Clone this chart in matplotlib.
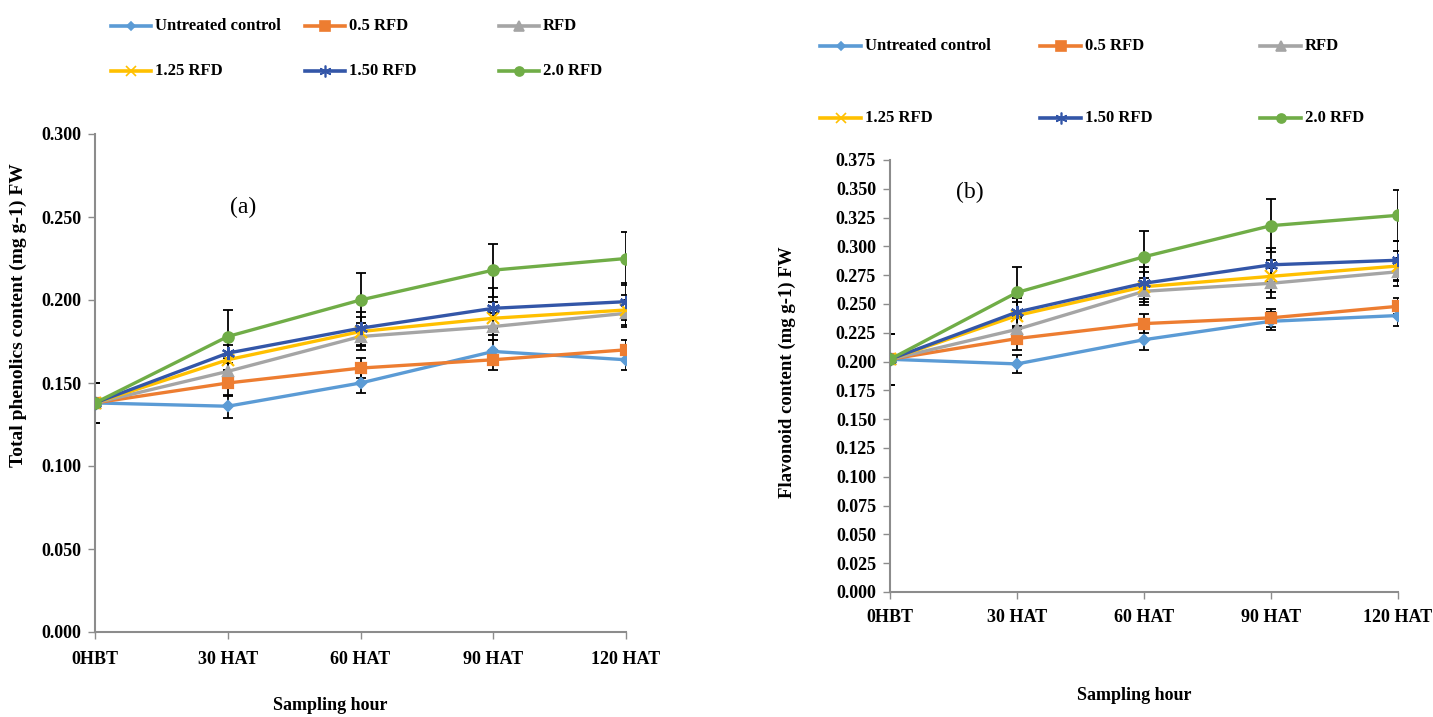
import matplotlib
matplotlib.use('Agg')
import matplotlib.pyplot as plt
from matplotlib.lines import Line2D

plt.rcParams['font.family'] = ['Liberation Serif', 'DejaVu Serif']
plt.rcParams['font.weight'] = 'bold'

hours = ['0HBT', '30 HAT', '60 HAT', '90 HAT', '120 HAT']
treatments = ['Untreated control', '0.5 RFD', 'RFD', '1.25 RFD', '1.50 RFD', '2.0 RFD']

# (a) total phenolics, mg g-1 FW
phen_ctrl = [0.138, 0.136, 0.150, 0.169, 0.164]
phen_05 = [0.138, 0.150, 0.159, 0.164, 0.170]
phen_rfd = [0.138, 0.157, 0.178, 0.184, 0.192]
phen_125 = [0.138, 0.164, 0.181, 0.189, 0.194]
phen_150 = [0.138, 0.168, 0.183, 0.195, 0.199]
phen_20 = [0.138, 0.178, 0.200, 0.218, 0.225]

phen_ctrl_err = [0.012, 0.007, 0.006, 0.007, 0.006]
phen_05_err = [0.012, 0.008, 0.006, 0.006, 0.006]
phen_rfd_err = [0.012, 0.008, 0.008, 0.008, 0.008]
phen_125_err = [0.012, 0.009, 0.009, 0.010, 0.009]
phen_150_err = [0.012, 0.010, 0.010, 0.012, 0.011]
phen_20_err = [0.012, 0.016, 0.016, 0.016, 0.016]

# (b) flavonoid, mg g-1 FW
flav_ctrl = [0.202, 0.198, 0.219, 0.235, 0.240]
flav_05 = [0.202, 0.220, 0.233, 0.238, 0.248]
flav_rfd = [0.202, 0.228, 0.261, 0.268, 0.278]
flav_125 = [0.202, 0.240, 0.265, 0.274, 0.283]
flav_150 = [0.202, 0.243, 0.268, 0.284, 0.288]
flav_20 = [0.202, 0.260, 0.291, 0.318, 0.327]

flav_ctrl_err = [0.022, 0.008, 0.009, 0.008, 0.009]
flav_05_err = [0.022, 0.010, 0.008, 0.008, 0.007]
flav_rfd_err = [0.022, 0.012, 0.012, 0.013, 0.012]
flav_125_err = [0.022, 0.012, 0.013, 0.014, 0.013]
flav_150_err = [0.022, 0.012, 0.014, 0.015, 0.017]
flav_20_err = [0.022, 0.022, 0.022, 0.023, 0.022]

colors = ['#5B9BD5', '#ED7D31', '#A5A5A5', '#FFC000', '#3356A8', '#70AD47']
markers = ['D', 's', '^', 'x', (6, 2, 0), 'o']
msizes = [5.5, 7.5, 7.5, 8.5, 9.5, 7.5]

W, H = 1433, 717
fig = plt.figure(figsize=(W / 100, H / 100), dpi=100)
fig.patch.set_facecolor('white')


def px(x0, y0, x1, y1):
    return [x0 / W, 1 - y1 / H, (x1 - x0) / W, (y1 - y0) / H]


def draw_panel(ax, series, errors, ymax, ystep):
    x = list(range(len(hours)))
    for i, (vals, errs) in enumerate(zip(series, errors)):
        ax.errorbar(x, vals, yerr=errs, fmt='none', ecolor='black',
                    elinewidth=1.3, capsize=3.5, capthick=1.3, zorder=2)
    for i, vals in enumerate(series):
        ax.plot(x, vals, color=colors[i], lw=2.4, marker=markers[i],
                ms=msizes[i], mec=colors[i], mfc=colors[i], mew=1.6, zorder=3 + i)
    ax.set_xlim(0, len(hours) - 1)
    ax.set_ylim(0, ymax)
    ax.set_xticks(x)
    ax.set_xticklabels(hours)
    n = int(round(ymax / ystep))
    ax.set_yticks([k * ystep for k in range(n + 1)])
    ax.set_yticklabels(['%.3f' % (k * ystep) for k in range(n + 1)])
    for s in ['top', 'right']:
        ax.spines[s].set_visible(False)
    for s in ['left', 'bottom']:
        ax.spines[s].set_color('#8C8C8C')
        ax.spines[s].set_linewidth(1.5)
    ax.tick_params(axis='both', colors='#8C8C8C', length=5, width=1.0,
                   labelcolor='black', labelsize=13)
    ax.tick_params(axis='x', pad=9)
    ax.tick_params(axis='y', pad=5)
    ax.set_facecolor('white')


def draw_legend(x_line, x_pitch, rows_y, line_len):
    for i, name in enumerate(treatments):
        r, c = divmod(i, 3)
        x0 = x_line + c * x_pitch
        y = 1 - rows_y[r] / H
        fig.add_artist(Line2D([x0 / W, (x0 + line_len) / W], [y, y], color=colors[i],
                              lw=2.6, transform=fig.transFigure))
        fig.add_artist(Line2D([(x0 + line_len / 2) / W], [y], color=colors[i],
                              marker=markers[i], ms=msizes[i] - 1, mew=1.2,
                              transform=fig.transFigure))
        fig.text((x0 + line_len + 4) / W, y, name, fontsize=12, fontweight='bold',
                 ha='left', va='center')


# panel (a)
ax1 = fig.add_axes(px(95, 134, 626, 632))
draw_panel(ax1,
           [phen_ctrl, phen_05, phen_rfd, phen_125, phen_150, phen_20],
           [phen_ctrl_err, phen_05_err, phen_rfd_err, phen_125_err, phen_150_err, phen_20_err],
           0.300, 0.050)
ax1.text(0.279, 0.853, '(a)', transform=ax1.transAxes, fontsize=17,
         fontweight='normal', ha='center', va='center')
fig.text(18 / W, 1 - 315 / H, 'Total phenolics content (mg g-1) FW', rotation=90,
         fontsize=14, fontweight='bold', ha='center', va='center')
fig.text(330 / W, 1 - 706 / H, 'Sampling hour', fontsize=13, fontweight='bold',
         ha='center', va='center')
draw_legend(111, 194, [26, 71], 40)

# panel (b)
ax2 = fig.add_axes(px(890, 160, 1398, 592))
draw_panel(ax2,
           [flav_ctrl, flav_05, flav_rfd, flav_125, flav_150, flav_20],
           [flav_ctrl_err, flav_05_err, flav_rfd_err, flav_125_err, flav_150_err, flav_20_err],
           0.375, 0.025)
ax2.tick_params(axis='x', pad=7)
ax2.text(0.157, 0.924, '(b)', transform=ax2.transAxes, fontsize=17,
         fontweight='normal', ha='center', va='center')
fig.text(787 / W, 1 - 372 / H, 'Flavonoid content (mg g-1) FW', rotation=90,
         fontsize=13.5, fontweight='bold', ha='center', va='center')
fig.text(1134 / W, 1 - 695 / H, 'Sampling hour', fontsize=13, fontweight='bold',
         ha='center', va='center')
draw_legend(820, 220, [46, 118], 41)

fig.savefig('out.png', dpi=100, facecolor='white')
plt.close()
